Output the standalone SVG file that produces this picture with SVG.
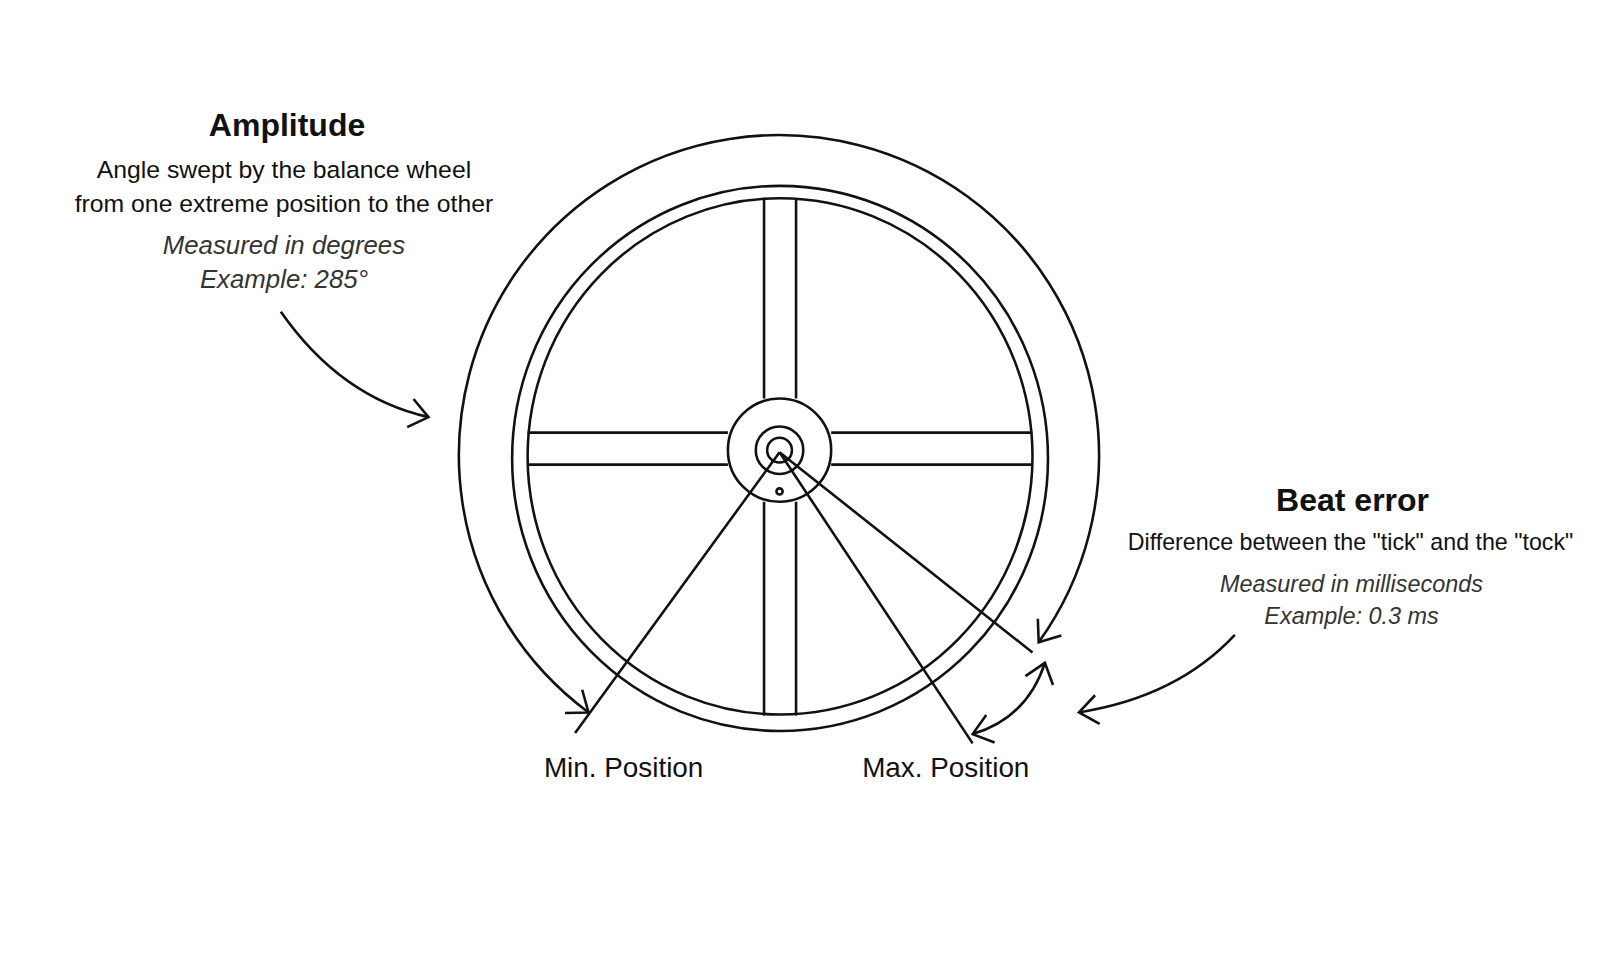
<svg xmlns="http://www.w3.org/2000/svg" width="1619" height="971" viewBox="0 0 1619 971">
<style>
.s{fill:none;stroke:#111;stroke-width:2.5}
.t{font-family:"Liberation Sans",Arial,sans-serif;fill:#111;text-anchor:middle}
.h{font-weight:bold;font-size:31px}
.b{font-size:24px}
.bb{font-size:22.5px}
.i{font-size:25px;font-style:italic;fill:#333}
.ib{font-size:22.7px;font-style:italic;fill:#333}
.p{font-size:27px}
</style>
<defs>
<marker id="a" viewBox="-20 -16 22 32" markerWidth="22" markerHeight="32" refX="0" refY="0" orient="auto-start-reverse" markerUnits="userSpaceOnUse">
<path d="M-18,-14 L0,0 L-18,14" fill="none" stroke="#111" stroke-width="2.5"/>
</marker>
</defs>
<rect width="1619" height="971" fill="#fff"/>
<g transform="scale(1.0325)">
<g id="wheel">
<ellipse class="s" cx="755.5" cy="444" rx="259.5" ry="264"/>
<ellipse class="s" cx="755.5" cy="442" rx="244.5" ry="250"/>
<path class="s" d="M740,192 V386 M771,192 V386 M740,486 V693 M771,486 V693 M511,419 H705 M511,450 H705 M805,419 H1000 M805,450 H1000"/>
<circle class="s" cx="755" cy="436" r="50" fill="#fff"/>
<circle class="s" cx="755" cy="436" r="23"/>
<circle class="s" cx="755" cy="436" r="12"/>
<circle class="s" cx="755" cy="476" r="3"/>
</g>
<g id="connectors">
<path class="s" d="M570,690 A310,310 0 1 1 1006,622" marker-start="url(#a)" marker-end="url(#a)"/>
<path class="s" d="M755,438 L557,710 M755,438 L942,720 M755,438 L1000,632"/>
<path class="s" d="M942,711 Q995,695 1012,642" marker-start="url(#a)" marker-end="url(#a)"/>
<path class="s" d="M272,302 Q330,385 415,404" marker-end="url(#a)"/>
<path class="s" d="M1196,615 Q1140,675 1045,690" marker-end="url(#a)"/>
</g>
<g id="amplitude">
<text class="t h" x="278" y="132">Amplitude</text>
<text class="t b" x="275" y="172">Angle swept by the balance wheel</text>
<text class="t b" x="275" y="205">from one extreme position to the other</text>
<text class="t i" x="275" y="246">Measured in degrees</text>
<text class="t i" x="275" y="279">Example: 285°</text>
</g>
<g id="beat">
<text class="t h" x="1310" y="495">Beat error</text>
<text class="t bb" x="1308" y="533">Difference between the "tick" and the "tock"</text>
<text class="t ib" x="1309" y="573">Measured in milliseconds</text>
<text class="t ib" x="1309" y="604">Example: 0.3 ms</text>
</g>
<g id="labels">
<text class="t p" x="604" y="753">Min. Position</text>
<text class="t p" x="916" y="753">Max. Position</text>
</g>
</g>
</svg>
